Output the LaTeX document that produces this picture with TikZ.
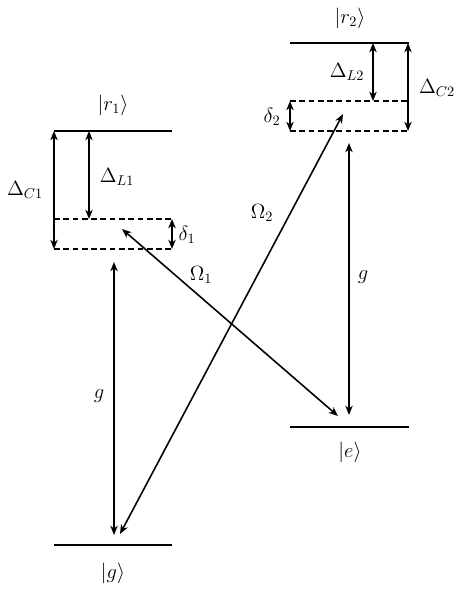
\documentclass[tikz,border=0pt]{standalone}
\usetikzlibrary{positioning,arrows.meta}

\begin{document}
\begin{tikzpicture}[x=0.7pt,y=-0.7pt,<->,>={Stealth[length=6.5pt,width=5.2pt,inset=2pt]},
    line width=1.1pt,font=\Large,
    level/.style={-,line width=1.2pt}, virtual/.style={-,line width=1.1pt,dash pattern=on 4pt off 2.5pt}]

\useasboundingbox (0,0) rectangle (463,589);

% left atom
\coordinate (r1L) at (54,131);  \coordinate (r1R) at (172,131);
\coordinate (a1L) at (54,219);  \coordinate (a1R) at (172,219);
\coordinate (b1L) at (54,249);  \coordinate (b1R) at (172,249);
\coordinate (gL)  at (54,545);  \coordinate (gR)  at (172,545);
% right atom
\coordinate (r2L) at (290,43);  \coordinate (r2R) at (409,43);
\coordinate (a2L) at (290,101); \coordinate (a2R) at (409,101);
\coordinate (b2L) at (290,131); \coordinate (b2R) at (409,131);
\coordinate (eL)  at (290,427); \coordinate (eR)  at (409,427);

\draw[level] (r1L) -- (r1R);
\draw[virtual] (a1L) -- (a1R);
\draw[virtual] (b1L) -- (b1R);
\draw[level] (gL) -- (gR);
\draw[level] (r2L) -- (r2R);
\draw[virtual] (a2L) -- (a2R);
\draw[virtual] (b2L) -- (b2R);
\draw[level] (eL) -- (eR);

\node (r1) at (113,105) {$|r_1\rangle$};
\node (r2) at (350,18)  {$|r_2\rangle$};
\node (e)  at (350,452) {$|e\rangle$};
\node (g)  at (113,573) {$|g\rangle$};

% arrow ends
\coordinate (L1top) at (89,131);  \coordinate (L1bot) at (89,219);
\coordinate (g1top) at (114,262); \coordinate (g1bot) at (114,535);
\coordinate (W1a)   at (122,229); \coordinate (W1b)   at (338,416);
\coordinate (L2top) at (373,43);  \coordinate (L2bot) at (373,101);
\coordinate (C2top) at (408,43);  \coordinate (C2bot) at (408,131);
\coordinate (g2top) at (349,143); \coordinate (g2bot) at (349,415);
\coordinate (W2a)   at (343,114); \coordinate (W2b)   at (120,534);

\draw (r1L) -- (b1L);
\draw (L1top) -- (L1bot);
\draw (a1R) -- (b1R);
\draw (g1top) -- (g1bot);
\draw (W1a) -- (W1b);
\draw (L2top) -- (L2bot);
\draw (C2top) -- (C2bot);
\draw (a2L) -- (b2L);
\draw (g2top) -- (g2bot);
\draw (W2a) -- (W2b);

\node (DC1) at (25,190)  {$\Delta_{C1}$};
\node (DL1) at (117,177) {$\Delta_{L1}$};
\node (d1)  at (187,235) {$\delta_1$};
\node (gl)  at (99,396)  {$g$};
\node (O1)  at (201,275) {$\Omega_1$};
\node (DL2) at (347,72)  {$\Delta_{L2}$};
\node (DC2) at (437,88)  {$\Delta_{C2}$};
\node (d2)  at (272,117) {$\delta_2$};
\node (gr)  at (363,277) {$g$};
\node (O2)  at (262,213) {$\Omega_2$};
\end{tikzpicture}
\end{document}
